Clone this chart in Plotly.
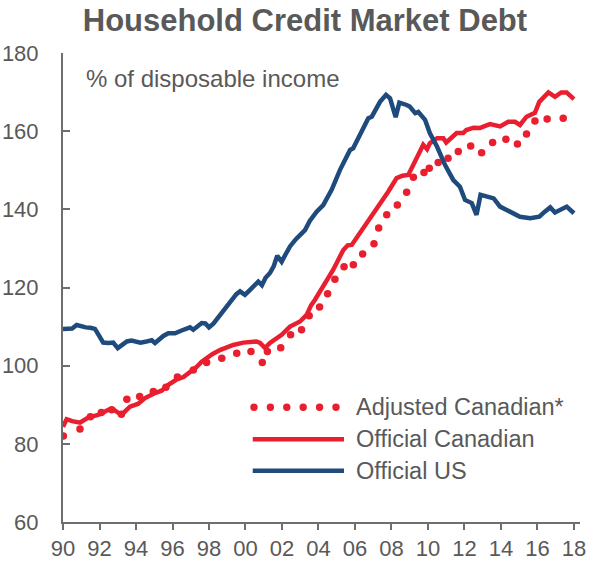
import plotly.graph_objects as go

# Household credit market debt, % of disposable income (quarterly readings)
us_years = [1990.0, 1990.5, 1990.75, 1991.0, 1991.25, 1991.5, 1991.75, 1992.0, 1992.2, 1992.5,
            1992.75, 1993.0, 1993.25, 1993.5, 1993.75, 1994.0, 1994.25, 1994.5, 1994.86, 1995.04,
            1995.25, 1995.5, 1995.77, 1996.14, 1996.5, 1996.96, 1997.14, 1997.4, 1997.6, 1997.8,
            1998.0, 1998.25, 1998.5, 1998.78, 1999.0, 1999.25, 1999.5, 1999.7, 1999.97, 2000.25,
            2000.5, 2000.7, 2000.9, 2001.1, 2001.34, 2001.55, 2001.74, 2001.98, 2002.2, 2002.44,
            2002.75, 2002.99, 2003.26, 2003.53, 2003.9, 2004.26, 2004.72, 2005.18, 2005.73, 2005.9,
            2006.37, 2006.73, 2006.92, 2007.37, 2007.7, 2007.92, 2008.23, 2008.43, 2008.83, 2009.0,
            2009.3, 2009.47, 2009.84, 2010.1, 2010.5, 2010.93, 2011.39, 2011.75, 2012.03, 2012.4,
            2012.66, 2012.88, 2013.2, 2013.6, 2013.95, 2014.5, 2015.04, 2015.6, 2016.1, 2016.4,
            2016.7, 2016.96, 2017.3, 2017.6, 2018.0]
us_values = [109.4, 109.5, 110.4, 110.0, 109.8, 109.7, 109.4, 107.5, 105.9, 105.8,
             105.9, 104.5, 105.2, 106.2, 106.4, 106.0, 105.9, 106.1, 106.5, 105.8,
             106.7, 107.6, 108.3, 108.3, 109.0, 109.8, 109.2, 110.2, 110.9, 110.8,
             109.8, 110.8, 112.3, 113.8, 115.0, 116.8, 118.3, 119.0, 118.1, 119.4,
             120.6, 121.5, 120.6, 122.5, 123.7, 125.5, 128.1, 126.6, 128.5, 130.5,
             132.3, 133.5, 134.7, 137.1, 139.4, 141.1, 145.0, 150.1, 155.2, 155.6,
             160.3, 163.3, 163.7, 167.5, 169.3, 168.4, 163.6, 167.3, 166.7, 166.3,
             164.6, 164.9, 162.9, 159.5, 156.0, 151.4, 147.5, 145.8, 142.4, 141.6,
             138.6, 143.7, 143.3, 142.8, 140.7, 139.4, 138.1, 137.7, 138.1, 139.4,
             140.5, 139.2, 139.9, 140.7, 139.0]

ca_years = [1990.0, 1990.2, 1990.5, 1990.93, 1991.4, 1991.93, 1992.5, 1992.76, 1993.2, 1993.67,
            1994.1, 1994.5, 1995.04, 1995.4, 1995.77, 1996.2, 1996.6, 1997.05, 1997.3, 1997.6,
            1997.8, 1998.2, 1998.6, 1999.0, 1999.33, 1999.88, 2000.3, 2000.6, 2000.8, 2001.07,
            2001.34, 2001.7, 2001.98, 2002.44, 2002.99, 2003.35, 2003.6, 2003.8, 2004.26, 2004.63,
            2004.8, 2005.36, 2005.6, 2005.82, 2006.37, 2006.82, 2007.0, 2007.37, 2007.82, 2008.28,
            2008.6, 2008.92, 2009.3, 2009.47, 2009.74, 2009.95, 2010.1, 2010.5, 2010.84, 2011.0,
            2011.3, 2011.57, 2011.93, 2012.1, 2012.5, 2012.85, 2013.1, 2013.4, 2013.95, 2014.4,
            2014.77, 2015.04, 2015.4, 2015.86, 2016.1, 2016.6, 2016.96, 2017.3, 2017.6, 2018.0]
ca_values = [84.4, 86.3, 85.8, 85.4, 86.8, 87.4, 88.7, 88.8, 87.4, 89.5,
             90.2, 91.7, 93.0, 93.6, 95.1, 96.4, 97.1, 98.5, 99.6, 101.0,
             101.7, 103.0, 104.0, 104.8, 105.3, 105.9, 106.1, 106.2, 105.8, 104.5,
             105.8, 107.0, 107.9, 110.0, 111.3, 113.0, 115.5, 116.8, 120.2, 123.2,
             124.5, 129.6, 130.8, 130.9, 134.7, 137.3, 139.0, 141.6, 144.5, 148.0,
             148.6, 148.8, 152.6, 154.3, 156.5, 155.4, 156.9, 158.2, 158.2, 157.1,
             158.5, 159.5, 159.5, 160.3, 160.9, 160.8, 161.3, 161.8, 161.2, 162.4,
             162.4, 161.6, 163.7, 164.7, 167.5, 169.9, 168.8, 169.9, 169.9, 168.2]

adj_years = [1990.02, 1990.93, 1991.5, 1992.1, 1992.67, 1993.2, 1993.5, 1994.2, 1994.95, 1995.64,
             1996.27, 1997.14, 1997.87, 1998.7, 1999.52, 2000.3, 2000.92, 2001.2, 2001.93, 2002.47,
             2003.07, 2003.49, 2004.06, 2004.5, 2004.9, 2005.4, 2005.91, 2006.42, 2007.04, 2007.3,
             2007.74, 2008.32, 2008.83, 2009.2, 2009.78, 2010.07, 2010.56, 2011.1, 2011.66, 2012.34,
             2012.94, 2013.54, 2014.27, 2014.9, 2015.4, 2015.86, 2016.53, 2017.41]
adj_values = [82.0, 83.8, 86.9, 88.0, 88.7, 87.6, 91.4, 92.1, 93.4, 94.5,
              97.1, 98.9, 100.8, 101.9, 103.2, 103.6, 100.8, 103.6, 104.6, 107.9,
              109.2, 112.8, 115.0, 118.4, 122.1, 125.3, 125.8, 128.6, 131.2, 135.2,
              138.6, 141.1, 144.4, 148.2, 149.4, 150.5, 152.0, 153.1, 154.8, 156.2,
              154.5, 157.1, 157.9, 156.7, 159.3, 162.6, 163.1, 163.3]

x_tick_years = list(range(1990, 2019, 2))
x_tick_labels = ["90", "92", "94", "96", "98", "00", "02", "04", "06", "08",
                 "10", "12", "14", "16", "18"]
y_tick_values = [60, 80, 100, 120, 140, 160, 180]

RED = "#E91E2E"
BLUE = "#1F4A7C"
TEXT = "#595959"
AXIS = "#6E6E6E"
FONT = "Liberation Sans, Arial, sans-serif"

fig = go.Figure()
fig.add_trace(go.Scatter(x=ca_years, y=ca_values, mode="lines", name="Official Canadian",
                         line=dict(color=RED, width=4.5), showlegend=False))
fig.add_trace(go.Scatter(x=adj_years, y=adj_values, mode="markers", name="Adjusted Canadian*",
                         marker=dict(color=RED, size=7.5, line=dict(width=0)), showlegend=False))
fig.add_trace(go.Scatter(x=us_years, y=us_values, mode="lines", name="Official US",
                         line=dict(color=BLUE, width=4.5), showlegend=False))

# Hand-drawn legend: long swatches to the left of each label
legend_entries = [("Adjusted Canadian*", "dots", RED, 0.2446),
                  ("Official Canadian", "line", RED, 0.1763),
                  ("Official US", "line", BLUE, 0.1094)]
sw_x0, sw_x1, label_x = 0.367, 0.5435, 0.563
dot_first, dot_last = 0.3694, 0.528
shapes = []
annotations = []
for label, kind, color, yy in legend_entries:
    if kind == "line":
        shapes.append(dict(type="line", xref="paper", yref="paper", x0=sw_x0, x1=sw_x1,
                           y0=yy, y1=yy, line=dict(color=color, width=4.5)))
    else:
        n = 6
        for i in range(n):
            cx = dot_first + i * (dot_last - dot_first) / (n - 1)
            shapes.append(dict(type="circle", xref="paper", yref="paper",
                               xsizemode="pixel", ysizemode="pixel",
                               xanchor=cx, yanchor=yy, x0=-3.7, x1=3.7, y0=-3.7, y1=3.7,
                               fillcolor=color, line=dict(width=0)))
    annotations.append(dict(text=label, xref="paper", yref="paper", x=label_x, y=yy,
                            xanchor="left", yanchor="middle", showarrow=False,
                            font=dict(size=23.5, color=TEXT, family=FONT)))

annotations.append(dict(text="% of disposable income", xref="paper", yref="paper",
                        x=0.04, y=0.945, xanchor="left", yanchor="middle", showarrow=False,
                        font=dict(size=24, color=TEXT, family=FONT)))

fig.update_layout(
    width=591, height=563,
    margin=dict(l=63, r=11, t=53, b=41),
    paper_bgcolor="white", plot_bgcolor="white",
    font=dict(family=FONT, color=TEXT),
    title=dict(text="<b>Household Credit Market Debt</b>", x=0.516, xanchor="center",
               y=0.965, yanchor="middle", yref="container",
               font=dict(size=31, color=TEXT, family=FONT)),
    shapes=shapes, annotations=annotations,
    xaxis=dict(range=[1990, 2018.33], tickvals=x_tick_years, ticktext=x_tick_labels,
               ticks="outside", ticklen=6, tickwidth=2, tickcolor=AXIS,
               showline=True, linecolor=AXIS, linewidth=2,
               showgrid=False, zeroline=False, automargin=False,
               tickfont=dict(size=22, color=TEXT, family=FONT)),
    yaxis=dict(range=[60, 180], tickvals=y_tick_values,
               ticks="inside", ticklen=7, tickwidth=2, tickcolor=AXIS,
               showline=True, linecolor=AXIS, linewidth=2,
               showgrid=False, zeroline=False, automargin=False, ticklabelstandoff=18,
               tickfont=dict(size=22, color=TEXT, family=FONT)),
)

fig.write_html("out.html")
